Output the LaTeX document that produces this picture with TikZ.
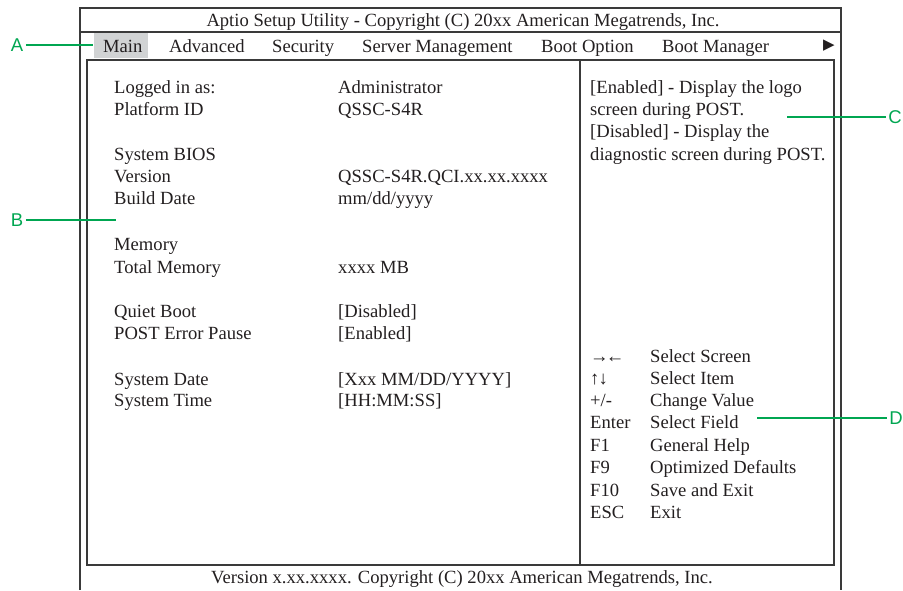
\documentclass[tikz,border=0pt]{standalone}
\usepackage{fontspec}
\setmainfont{Liberation Serif}
\newfontfamily\calloutfont{Liberation Sans}
\newfontfamily\symfont{DejaVu Sans}
\usetikzlibrary{positioning}
\definecolor{ink}{HTML}{231F20}
\definecolor{frame}{HTML}{3A3A3A}
\definecolor{menuhl}{HTML}{D1D3D4}
\definecolor{callgreen}{HTML}{00A651}
\tikzset{
  every node/.style={font=\fontsize{18.6}{21}\selectfont,text=ink,inner sep=0pt},
  txt/.style={anchor=base west},
  framel/.style={draw=frame,line width=1.3pt},
  boxl/.style={draw=frame,line width=1.6pt},
  callout/.style={font=\calloutfont\fontsize{18.5}{21}\selectfont,text=callgreen,inner sep=2.5pt},
  leader/.style={draw=callgreen,line width=1.4pt}
}
\begin{document}
\begin{tikzpicture}[x=1pt,y=-1pt]
  \useasboundingbox (0,0) rectangle (903,590);

  % screen frame
  \draw[framel] (80,590) -- (80,8) -- (841,8) -- (841,590);
  \draw[framel] (80,32) -- (841,32);
  \fill[menuhl] (94,33) rectangle (148,58);
  \draw[boxl] (87,60) rectangle (834,565);
  \draw[boxl] (580,60) -- (580,565);

  \node[anchor=base] (title) at (463,26) {Aptio Setup Utility - Copyright (C) 20xx American Megatrends, Inc.};
  \node[anchor=base] (footer) at (462,583) {Version x.xx.xxxx. Copyright (C) 20xx American Megatrends, Inc.};

  % menu bar
  \node[txt] (mmain) at (103,52.5) {Main};
  \node[txt] (madv) at (169,52.5) {Advanced};
  \node[txt] (msec) at (272,52.5) {Security};
  \node[txt] (msrv) at (362,52.5) {Server Management};
  \node[txt] (mboot) at (541,52.5) {Boot Option};
  \node[txt] (mmgr) at (662,52.5) {Boot Manager};
  \node[font=\symfont\fontsize{15}{16}\selectfont] (mmore) at (829,46) {▶};

  % main panel
  \node[txt] (l1) at (114,93) {Logged in as:};
  \node[txt] (v1) at (338,93) {Administrator};
  \node[txt] (l2) at (114,115) {Platform ID};
  \node[txt] (v2) at (338,115) {QSSC-S4R};
  \node[txt] (l3) at (114,160) {System BIOS};
  \node[txt] (l4) at (114,182) {Version};
  \node[txt] (v4) at (338,182) {QSSC-S4R.QCI.xx.xx.xxxx};
  \node[txt] (l5) at (114,204) {Build Date};
  \node[txt] (v5) at (338,204) {mm/dd/yyyy};
  \node[txt] (l6) at (114,250) {Memory};
  \node[txt] (l7) at (114,273) {Total Memory};
  \node[txt] (v7) at (338,273) {xxxx MB};
  \node[txt] (l8) at (114,317) {Quiet Boot};
  \node[txt] (v8) at (338,317) {[Disabled]};
  \node[txt] (l9) at (114,339) {POST Error Pause};
  \node[txt] (v9) at (338,339) {[Enabled]};
  \node[txt] (l10) at (114,385) {System Date};
  \node[txt] (v10) at (338,385) {[Xxx MM/DD/YYYY]};
  \node[txt] (l11) at (114,406) {System Time};
  \node[txt] (v11) at (338,406) {[HH:MM:SS]};

  % help panel
  \node[txt] (h1) at (590,93) {[Enabled] - Display the logo};
  \node[txt] (h2) at (590,115) {screen during POST.};
  \node[txt] (h3) at (590,137) {[Disabled] - Display the};
  \node[txt] (h4) at (590,160) {diagnostic screen during POST.};

  \foreach \i/\y/\k/\d in {1/362/{→\kern-3pt←}/{Select Screen},2/384/{↑\kern-1pt↓}/{Select Item},3/406/{+/-}/{Change Value},
      4/428/{Enter}/{Select Field},5/451/{F1}/{General Help},6/473/{F9}/{Optimized Defaults},
      7/496/{F10}/{Save and Exit},8/518/{ESC}/{Exit}} {
    \node[txt] (key\i) at (590,\y) {\k};
    \node[txt] (desc\i) at (650,\y) {\d};
  }

  % callouts
  \node[callout] (A) at (17,45) {A};
  \coordinate (Aend) at (93,45);
  \draw[leader] (A.east) -- (Aend);
  \node[callout] (B) at (17,220) {B};
  \coordinate (Bend) at (116,220);
  \draw[leader] (B.east) -- (Bend);
  \node[callout] (C) at (895,117) {C};
  \coordinate (Cend) at (787,117);
  \draw[leader] (C.west) -- (Cend);
  \node[callout] (D) at (896,418) {D};
  \coordinate (Dend) at (757,418);
  \draw[leader] (D.west) -- (Dend);
\end{tikzpicture}
\end{document}
